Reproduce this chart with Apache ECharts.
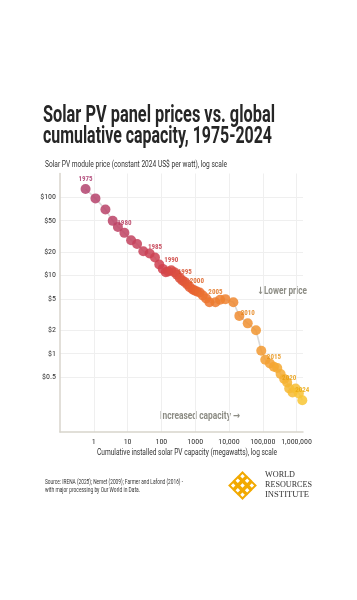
<!DOCTYPE html>
<html><head><meta charset="utf-8">
<script src="https://cdn.jsdelivr.net/npm/echarts@6/dist/echarts.min.js"></script>
<style>html,body{margin:0;padding:0;background:#fff}#c{width:357px;height:600px}</style>
</head><body><div id="c"></div>
<script>
// ---- data ----
const years = [1975,1976,1977,1978,1979,1980,1981,1982,1983,1984,1985,1986,1987,1988,1989,1990,1991,1992,1993,1994,1995,1996,1997,1998,1999,2000,2001,2002,2003,2004,2005,2006,2007,2008,2009,2010,2011,2012,2013,2014,2015,2016,2017,2018,2019,2020,2021,2022,2023,2024];
const capacityMW = [0.57,1.12,2.21,3.63,5.17,8.05,12.7,19.1,29.2,44.9,64.7,86.7,110,135,160,196,240,289,349,414,490,581,689,844,967,1122,1358,1687,2110,2641,3970,5460,7830,13490,20280,35890,63000,90300,118600,163000,214000,268000,337000,431000,528000,605000,762000,935000,1170000,1480000];
const priceUSD = [126.7,96.2,69.5,49.7,41.6,34.9,28.1,25.2,20.3,19.0,16.9,13.8,12.1,11.0,11.2,11.6,11.0,10.2,9.29,8.63,8.26,7.67,7.08,6.62,6.42,6.24,6.05,5.54,5.07,4.55,4.55,4.88,4.97,4.55,3.04,2.44,1.99,1.09,0.838,0.751,0.681,0.656,0.549,0.474,0.429,0.359,0.319,0.359,0.310,0.255];
const labelYears = [1975,1980,1985,1990,1995,2000,2005,2010,2015,2020,2024];
const xTickValues = [1,10,100,1000,10000,100000,1000000];
const xTickLabels = ['1','10','100','1000','10,000','100,000','1,000,000'];
const yTickValues = [0.5,1,2,5,10,20,50,100];
const yTickLabels = ['$0.5','$1','$2','$5','$10','$20','$50','$100'];

// ---- helpers ----
const NARROW = "'Roboto Condensed','Liberation Sans Narrow','DejaVu Sans Condensed',Roboto,sans-serif";
const ARROWFONT = "Roboto,'DejaVu Sans',sans-serif";
const pointPalette = ['#b3436f', '#d2404c', '#e8632f', '#f29830', '#f8c634'];
const labelPalette = ['#a8356a', '#c62f3d', '#dc5a1c', '#e58a18', '#eaa80e'];
const mctx = document.createElement('canvas').getContext('2d');
function measure(text, size, weight, family) {
  mctx.font = (weight || 'normal') + ' ' + size + 'px ' + family;
  return mctx.measureText(text).width;
}
function fitText(text, x, y, size, weight, color, targetW, family) {
  family = family || 'Roboto';
  const w = measure(text, size, weight, family);
  return {
    type: 'text', x: x, y: y, scaleX: targetW / w, silent: true,
    style: { text: text, x: 0, y: 0, fill: color, font: weight + ' ' + size + 'px ' + family,
             align: 'left', verticalAlign: 'middle' }
  };
}

const y0 = years[0], y1 = years[years.length - 1];
const scatterData = years.map((y, i) => {
  const item = { value: [capacityMW[i], priceUSD[i], y] };
  if (labelYears.indexOf(y) >= 0) {
    item.label = { show: true, color: echarts.color.lerp((y - y0) / (y1 - y0), labelPalette) };
  }
  return item;
});
const lineData = years.map((y, i) => [capacityMW[i], priceUSD[i]]);

// WRI logo lattice
const logoChildren = [];
[-1, 0, 1].forEach(i => [-1, 0, 1].forEach(j => {
  logoChildren.push({ type: 'rect', shape: { x: i * 6.6 - 2.6, y: j * 6.6 - 2.6, width: 5.2, height: 5.2 },
    style: { fill: 'none', stroke: '#f2a900', lineWidth: 2 } });
}));

const chart = echarts.init(document.getElementById('c'), null, { renderer: 'canvas' });
chart.setOption({
  backgroundColor: '#ffffff',
  animation: false,
  grid: { left: 60, right: 54, top: 173.5, bottom: 168, containLabel: false },
  xAxis: {
    type: 'log', logBase: 10, min: 0.1, max: 1.55e6,
    axisLine: { show: true, lineStyle: { color: '#d8d5cc', width: 1.5 } },
    axisTick: { show: false, customValues: xTickValues },
    splitLine: { show: true, lineStyle: { color: '#efefef', width: 1 } },
    axisLabel: {
      customValues: xTickValues, margin: 6, color: '#333', fontSize: 8, fontFamily: NARROW,
      formatter: v => { const k = xTickValues.findIndex(t => Math.abs(t - v) / t < 1e-6); return k >= 0 ? xTickLabels[k] : ''; }
    }
  },
  yAxis: {
    type: 'log', logBase: 10, min: 0.1, max: 200,
    axisLine: { show: true, lineStyle: { color: '#d8d5cc', width: 1.5 } },
    axisTick: { show: false, customValues: yTickValues },
    splitLine: { show: true, lineStyle: { color: '#efefef', width: 1 } },
    axisLabel: {
      customValues: yTickValues, margin: 4, color: '#333', fontSize: 8, fontFamily: NARROW,
      formatter: v => { const k = yTickValues.findIndex(t => Math.abs(t - v) / t < 1e-6); return k >= 0 ? yTickLabels[k] : ''; }
    }
  },
  visualMap: {
    show: false, type: 'continuous', seriesIndex: 1, dimension: 2, min: 1975, max: 2024,
    inRange: { color: pointPalette }
  },
  series: [
    { type: 'line', data: lineData, symbol: 'none', z: 1, silent: true,
      lineStyle: { color: '#dadada', width: 1.6 } },
    { type: 'scatter', data: scatterData, symbolSize: 10, z: 3, clip: false,
      itemStyle: { opacity: 0.85 },
      label: { show: false, position: 'top', distance: 1.5, fontSize: 7, fontWeight: 'bold',
        fontFamily: NARROW, formatter: p => String(p.value[2]) } }
  ],
  graphic: [
    fitText('Solar PV panel prices vs. global', 43, 116, 23, 'bold', '#262626', 232),
    fitText('cumulative capacity, 1975-2024', 43, 137, 23, 'bold', '#262626', 229),
    fitText('Solar PV module price (constant 2024 US$ per watt), log scale', 45, 165, 8.5, 'normal', '#333', 182),
    fitText('Cumulative installed solar PV capacity (megawatts), log scale', 97, 453, 8.5, 'normal', '#333', 180),
    fitText('\u2193Lower price', 257, 291, 10, 'bold', '#8c8c84', 50, ARROWFONT),
    fitText('Increased capacity \u2192', 160, 416, 10, 'bold', '#8c8c84', 80, ARROWFONT),
    fitText('Source: IRENA (2025); Nemet (2009); Farmer and Lafond (2016) -', 45, 482, 6.5, 'normal', '#333', 138),
    fitText('with major processing by Our World in Data.', 45, 490, 6.5, 'normal', '#333', 95),
    { type: 'group', x: 242.5, y: 485.5, rotation: Math.PI / 4, children: logoChildren, silent: true },
    fitText('WORLD', 265, 475.5, 7.5, 'normal', '#333', 30, "'Liberation Serif','DejaVu Serif',serif"),
    fitText('RESOURCES', 265, 485.5, 7.5, 'normal', '#333', 47, "'Liberation Serif','DejaVu Serif',serif"),
    fitText('INSTITUTE', 265, 495.5, 7.5, 'normal', '#333', 44, "'Liberation Serif','DejaVu Serif',serif")
  ]
});
</script>
</body></html>
